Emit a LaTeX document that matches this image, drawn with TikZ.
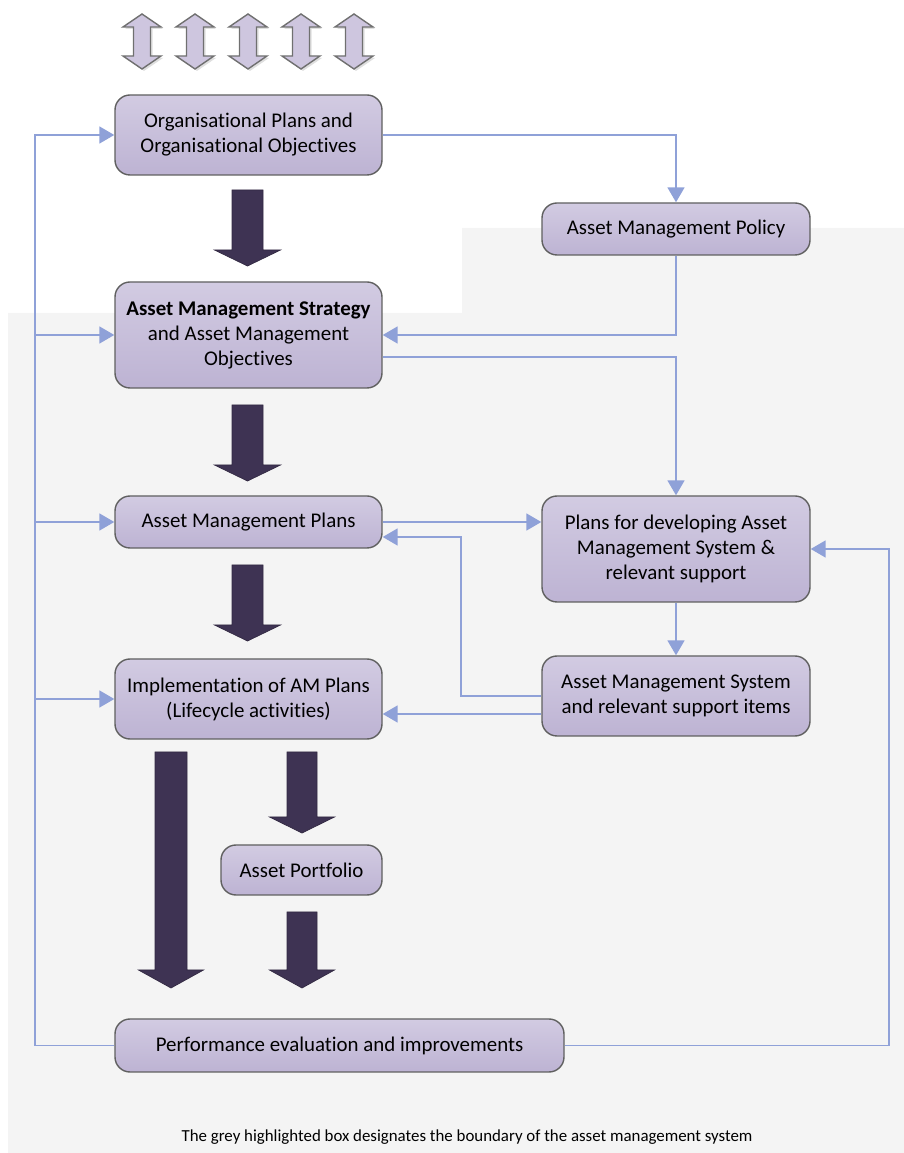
\documentclass[tikz,border=0pt]{standalone}
\usepackage{fontspec}
\setmainfont{Carlito}[Ligatures=NoCommon]
\usetikzlibrary{arrows.meta,shadows}

\definecolor{boxtop}{RGB}{210,203,226}
\definecolor{boxbot}{RGB}{189,179,211}
\definecolor{boxline}{RGB}{96,96,96}
\definecolor{linkblue}{RGB}{143,161,216}
\definecolor{darkarrow}{RGB}{62,51,83}
\definecolor{sysgrey}{RGB}{244,244,244}

\tikzset{
  box/.style={draw=boxline, line width=0.8pt, rounded corners=0.3cm,
    top color=boxtop, bottom color=boxbot, align=center, inner sep=0pt,
    font=\fontsize{11.9}{14.2}\selectfont},
  link/.style={draw=linkblue, line width=1pt, -{Triangle[length=0.3cm,width=0.34cm]}},
  bigarrow/.style={fill=darkarrow, draw=darkarrow!80!black, line width=0.4pt},
  twoway/.style={fill=boxtop!80!boxbot, draw=boxline!90, line width=0.8pt,
    drop shadow={shadow xshift=0.04cm, shadow yshift=-0.04cm, opacity=0.25}}
}

% x, top, head start, tip, half shaft, half head
\newcommand{\flowarrow}[6]{%
  \draw[bigarrow] (#1-#5,#2) -- (#1+#5,#2) -- (#1+#5,#3) -- (#1+#6,#3) -- (#1,#4)
    -- (#1-#6,#3) -- (#1-#5,#3) -- cycle;}

\begin{document}
\begin{tikzpicture}
    \useasboundingbox (0,0) rectangle (18.08,23.06);

    % Confine del sistema
    \fill[sysgrey] (0.16,0) -- (0.16,16.8) -- (9.24,16.8) -- (9.24,18.5)
        -- (18.08,18.5) -- (18.08,0) -- cycle;

    % Frecce doppie in alto
    \foreach \x in {2.84,3.90,4.96,6.02,7.08}
        \draw[twoway] (\x,22.78) -- (\x+0.38,22.52) -- (\x+0.17,22.52) -- (\x+0.17,21.94)
            -- (\x+0.38,21.94) -- (\x,21.68) -- (\x-0.38,21.94) -- (\x-0.17,21.94)
            -- (\x-0.17,22.52) -- (\x-0.38,22.52) -- cycle;

    % Riquadri
    \node[box, minimum width=5.34cm, minimum height=1.6cm] (org) at (4.97,20.36)
        {Organisational Plans and\\Organisational Objectives};
    \node[box, minimum width=5.36cm, minimum height=1.04cm] (policy) at (13.52,18.48)
        {Asset Management Policy};
    \node[box, minimum width=5.34cm, minimum height=2.12cm] (strategy) at (4.97,16.36)
        {\textbf{Asset Management Strategy}\\and Asset Management\\Objectives};
    \node[box, minimum width=5.34cm, minimum height=1.04cm] (amplans) at (4.97,12.62)
        {Asset Management Plans};
    \node[box, minimum width=5.36cm, minimum height=2.12cm] (develop) at (13.52,12.08)
        {Plans for developing Asset\\Management System \&\\relevant support};
    \node[box, minimum width=5.34cm, minimum height=1.6cm] (implement) at (4.97,9.08)
        {Implementation of AM Plans\\(Lifecycle activities)};
    \node[box, minimum width=5.36cm, minimum height=1.6cm] (amsystem) at (13.52,9.14)
        {Asset Management System\\and relevant support items};
    \node[box, minimum width=3.22cm, minimum height=1.0cm] (portfolio) at (6.03,5.66)
        {Asset Portfolio};
    \node[box, minimum width=8.98cm, minimum height=1.06cm] (perf) at (6.79,2.15)
        {Performance evaluation and improvements};

    % Frecce scure
    \flowarrow{4.95}{19.26}{18.06}{17.74}{0.31}{0.66}
    \flowarrow{4.95}{14.96}{13.76}{13.44}{0.31}{0.66}
    \flowarrow{4.95}{11.76}{10.56}{10.24}{0.31}{0.66}
    \flowarrow{3.42}{8.02}{3.66}{3.30}{0.32}{0.65}
    \flowarrow{6.04}{8.02}{6.72}{6.40}{0.30}{0.65}
    \flowarrow{6.04}{4.82}{3.66}{3.30}{0.30}{0.65}

    % Ritorno a sinistra
    \coordinate (bust) at (0.7,20.36);
    \draw[link] (perf.west) -| (bust) -- (org.west);
    \draw[link] (bust |- strategy.west) -- (strategy.west);
    \draw[link] (bust |- amplans.west) -- (amplans.west);
    \draw[link] (bust |- implement.west) -- (implement.west);

    % Collegamenti a destra
    \draw[link] (org.east) -| (policy.north);
    \draw[link] (policy.south) |- (strategy.east);
    \draw[link] ([yshift=-0.44cm]strategy.east) -| (develop.north);
    \draw[link] (amplans.east) -- (amplans.east -| develop.west);
    \draw[link] (develop.south) -- (amsystem.north);
    \draw[link] (amsystem.west) -- ++(-1.6,0) |- ([yshift=-0.3cm]amplans.east);
    \draw[link] ([yshift=-0.36cm]amsystem.west) -- ([yshift=-0.36cm]amsystem.west -| implement.east);
    \coordinate (busr) at (17.78,12.08);
    \draw[link] (perf.east) -| (busr) -- (develop.east);

    % Didascalia
    \node[font=\fontsize{9.6}{11}\selectfont] (caption) at (9.34,0.32)
        {The grey highlighted box designates the boundary of the asset management system};

\end{tikzpicture}
\end{document}
